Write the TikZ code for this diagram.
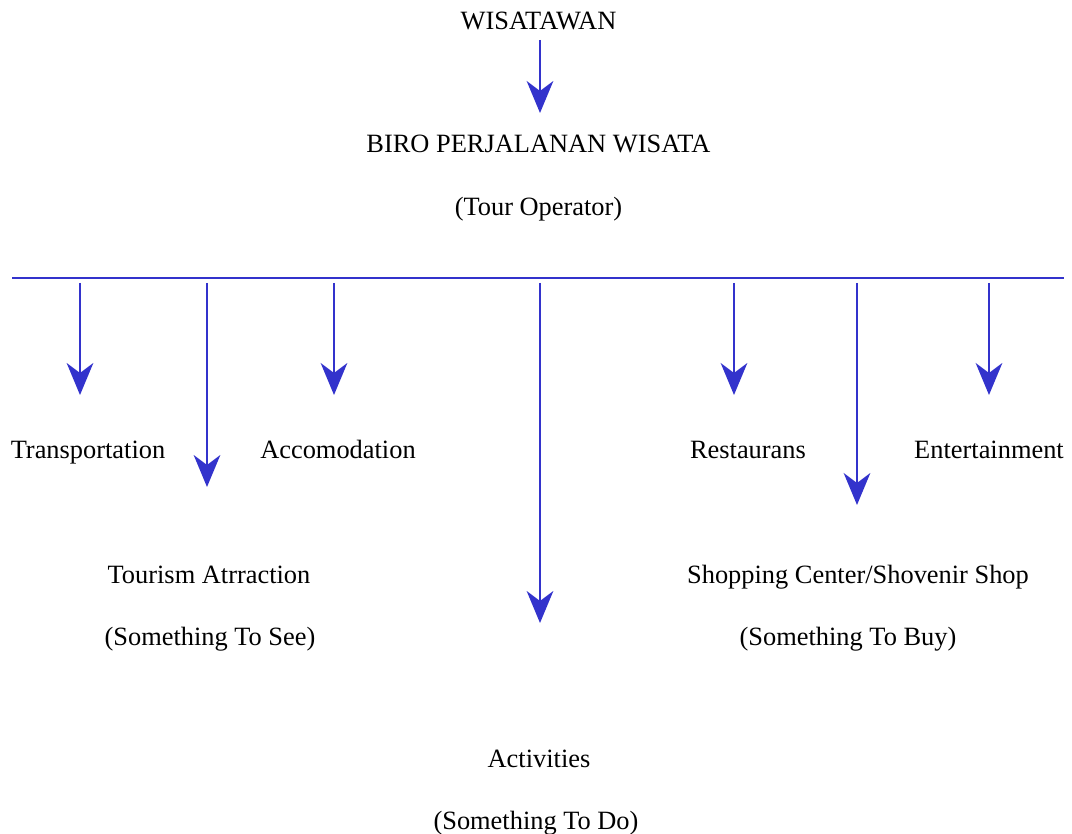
\documentclass[tikz,border=0pt]{standalone}
\usepackage{fontspec}
\setmainfont{Liberation Serif}
\usetikzlibrary{arrows.meta}
\definecolor{arrowblue}{RGB}{51,51,204}
\tikzset{
  lbl/.style={anchor=base, inner sep=0pt, font=\fontsize{19.8}{22}\selectfont},
  arr/.style={draw=arrowblue, line width=1.6pt, -{Stealth[length=24pt,width=20pt,inset=7.5pt]}},
  hline/.style={draw=arrowblue, line width=1.1pt}
}
\begin{document}
\begin{tikzpicture}[x=0.75pt,y=-0.75pt]
\useasboundingbox (0,0) rectangle (1072,834);
% texts
\node[lbl] (wis) at (538.5,30) {WISATAWAN};
\node[lbl] (biro) at (538.5,153) {BIRO PERJALANAN WISATA};
\node[lbl] (tour) at (538.5,216) {(Tour Operator)};
\node[lbl] (trans) at (88,459) {Transportation};
\node[lbl] (acc) at (338,459) {Accomodation};
\node[lbl] (rest) at (748,459) {Restaurans};
\node[lbl] (ent) at (989,459) {Entertainment};
\node[lbl] (tour1) at (209,583) {Tourism Atrraction};
\node[lbl] (tour2) at (210,645) {(Something To See)};
\node[lbl] (shop1) at (858,583) {Shopping Center/Shovenir Shop};
\node[lbl] (shop2) at (848,645) {(Something To Buy)};
\node[lbl] (act1) at (539,767) {Activities};
\node[lbl] (act2) at (536,829) {(Something To Do)};
% top arrow
\coordinate (a0s) at (540,40);
\coordinate (a0e) at (540,113);
\draw[arr] (a0s) -- (a0e);
% horizontal line
\coordinate (hl) at (12,278);
\coordinate (hr) at (1064,278);
\draw[hline] (hl) -- (hr);
% branch arrows
\foreach \n/\x/\y in {t/80/395, s/207/487, a/334/395, d/540/623, r/734/395, b/857/505, e/989/395}{
  \coordinate (\n s) at (\x,283);
  \coordinate (\n e) at (\x,\y);
  \draw[arr] (\n s) -- (\n e);
}
\end{tikzpicture}
\end{document}
